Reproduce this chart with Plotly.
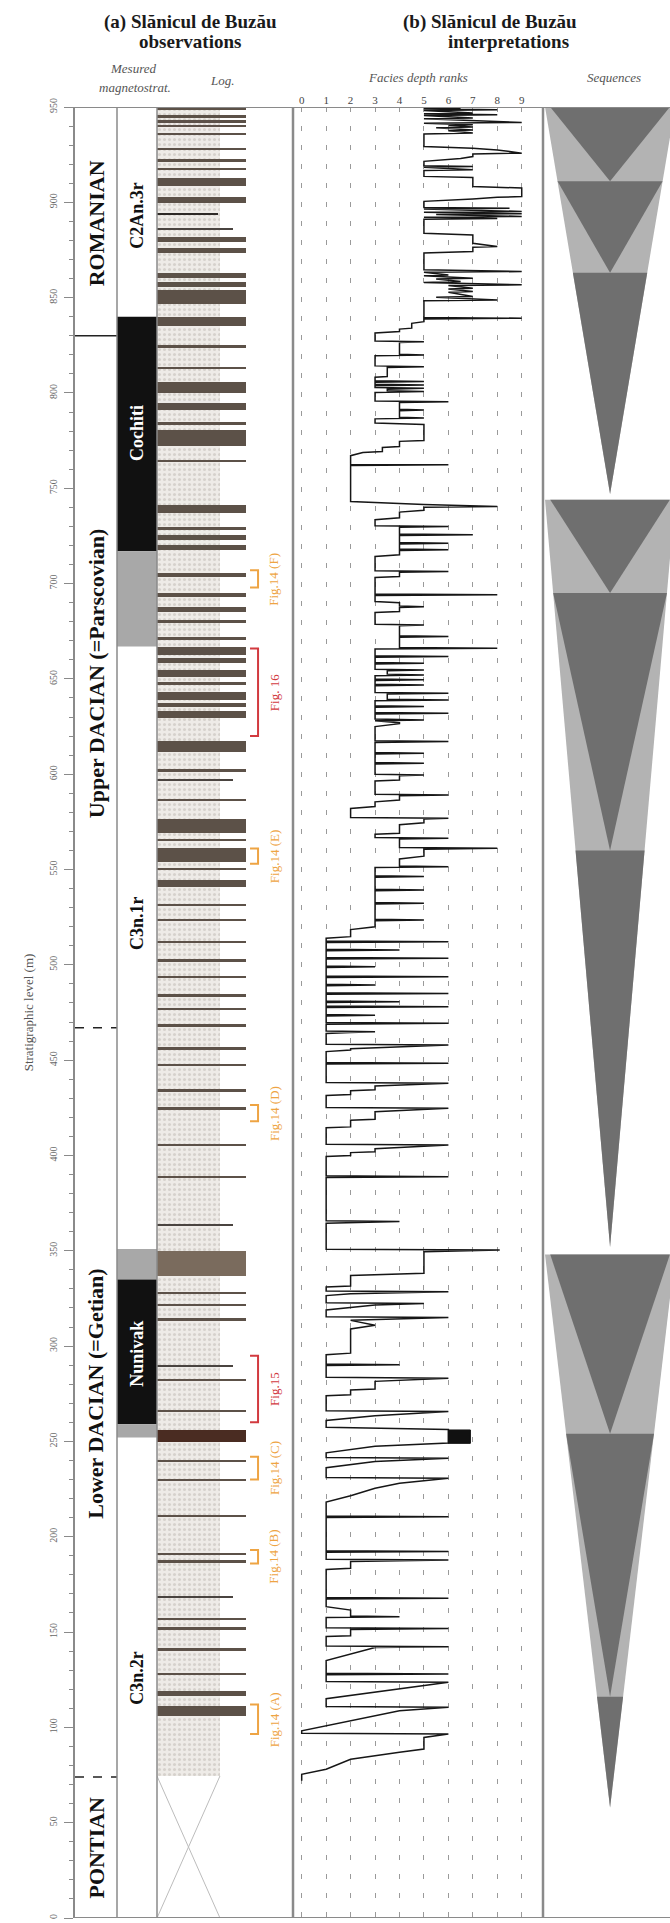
import plotly.graph_objects as go

# ------------------------------------------------------------------ data
stage_names = ["ROMANIAN", "Upper DACIAN (=Parscovian)", "Lower DACIAN (=Getian)", "PONTIAN"]
stage_top = [950, 830, 467, 74]
stage_base = [830, 467, 74, 0]
stage_label_level = [889, 653, 275, 37]
stage_contact = ["solid", "dash", "dash"]

mag_top = [950, 840, 717, 667, 351, 335, 259, 252]
mag_base = [840, 717, 667, 351, 335, 259, 252, 0]
mag_polarity = ["R", "N", "X", "R", "X", "N", "X", "R"]
mag_names = ["C2An.3r", "Cochiti", "C3n.1r", "Nunivak", "C3n.2r"]
mag_name_level = [893, 779, 522, 296, 126]
mag_name_polarity = ["R", "N", "R", "N", "R"]

sand_interval = [74.5, 950]
gap_interval = [0, 74.5]

log_top = [950, 945.9, 943, 940.7, 936.4, 928.4, 922.6, 918, 912.7, 903, 894.3, 886.4, 882, 876,
           862.8, 858.4, 854, 840, 825.2, 813.8, 806, 794.6,
           785, 780.7, 765, 741.3, 729.9, 725.6, 720.3, 705.5, 695, 687.9, 681, 672.2, 666.9, 660.8,
           654.7, 648.6, 643.3, 637.2, 632.9,
           617.5, 602.5, 597.3, 587, 576.5, 566, 561.5, 551, 544.5, 532, 524, 512.5, 503, 494.3,
           484.6, 477.6, 468.9,
           456.8, 448, 434.8, 425.3, 406, 389.4, 364, 350, 328.5, 322.3, 314.5,
           289.9, 283, 266.5, 256, 240.5, 230.5, 210.9, 191.7, 187.7, 169, 157.5, 152.5, 141.5,
           128.3, 119, 111, 96.5]
log_base = [948.5, 944.2, 941.6, 939.6, 935.3, 927.2, 920.9, 916.8, 908.7, 899.9, 893.6, 885.5, 879.4, 873.3,
            860.2, 855.8, 846.7, 835, 823.6, 812.5, 800, 791.1,
            783.3, 772, 764, 737, 728.2, 723, 717.7, 703.7, 693.2, 685.3, 679.2, 670.5, 662.6, 658.2,
            651.2, 646.8, 638.9, 635.5, 629.3,
            611.5, 601.5, 596.6, 586, 569, 565, 554, 550, 541, 531, 523, 511.5, 502, 493.3,
            483.6, 476.6, 467.9,
            455.8, 447, 433.8, 424.3, 405, 388.4, 363.2, 337, 327.3, 321.1, 313.2,
            289.3, 282, 265.5, 249.5, 239.5, 229.5, 210.4, 190.7, 186.7, 168, 156.8, 151.5, 140.5,
            127.8, 116.5, 106, 85]
log_kind = ["F"] * 10 + ["S", "P"] + ["F"] * 10 + \
           ["F"] * 19 + \
           ["F", "F", "P"] + ["F"] * 14 + \
           ["F"] * 6 + ["P", "B"] + ["F"] * 3 + \
           ["P", "F", "F", "L"] + ["F"] * 5 + ["P"] + ["F"] * 6

fig_ref_names = ["Fig.14 (F)", "Fig. 16", "Fig.14 (E)", "Fig.14 (D)", "Fig.15", "Fig.14 (C)", "Fig.14 (B)", "Fig.14 (A)"]
fig_ref_top = [707, 666, 561, 426.5, 295, 242, 193, 112]
fig_ref_base = [698, 620, 553, 418, 260, 230, 186, 96.5]
fig_ref_kind = ["o", "r", "o", "o", "r", "o", "o", "o"]

facies_ticks = [0, 1, 2, 3, 4, 5, 6, 7, 8, 9]
facies_points = [
    (950.0, 5), (949.4, 6.5), (949.1, 5), (948.6, 8), (948.2, 5), (946.8, 7), (946.4, 5), (945.9, 8),
    (945.5, 5), (944.2, 7), (943.8, 5), (941.9, 9), (941.5, 5), (940.7, 7), (940.3, 6), (939.5, 7),
    (939.1, 5.5), (938.0, 7), (937.6, 6), (936.3, 7), (935.9, 5), (929.3, 5), (928.4, 7), (927.5, 8),
    (925.8, 9), (925.4, 7), (924.0, 7), (923.0, 6.5), (921.5, 5), (919.2, 5), (918.8, 7), (918.4, 5),
    (917.1, 7), (916.7, 5), (913.6, 5), (913.0, 7), (908.3, 7), (907.9, 8), (907.5, 9), (903.0, 9),
    (902.6, 8), (901.8, 7), (900.5, 5), (897.3, 5), (896.9, 8.5), (896.5, 5), (895.2, 9), (894.8, 5),
    (894.0, 9), (893.6, 5.5), (892.6, 9), (892.2, 5), (891.5, 8), (891.1, 5), (883.8, 5), (882.9, 7),
    (878.5, 7), (876.8, 8), (876.4, 7), (874.2, 7), (873.4, 5), (864.6, 5), (863.7, 9), (863.3, 5),
    (861.9, 6), (861.5, 5), (860.2, 7), (859.8, 5.5), (858.4, 6.5), (858.0, 5), (856.7, 9), (856.3, 6),
    (854.9, 7), (854.5, 6), (853.2, 7), (852.8, 6), (850.6, 7), (850.2, 5.5), (848.8, 8), (848.4, 5),
    (839.6, 5), (839.2, 9), (838.8, 5), (837.4, 5), (836.5, 4.5), (834.0, 4.5), (833.5, 4), (832.2, 4),
    (831.5, 3), (827.3, 3), (826.9, 5), (826.5, 4), (820.3, 4), (819.9, 5), (819.5, 3), (814.2, 3),
    (813.8, 5), (813.4, 3.5), (808.6, 3.5), (808.2, 3), (806.4, 3), (806.0, 5), (805.6, 3), (804.6, 3),
    (804.2, 5), (803.8, 3), (802.8, 3), (802.4, 5), (802.0, 3.5), (801.1, 3.5), (800.7, 5), (800.3, 3),
    (795.8, 3), (795.4, 6), (795.0, 4), (791.5, 4), (791.1, 5), (790.7, 4), (787.2, 4), (786.8, 5),
    (786.4, 3), (784.2, 3), (783.5, 5), (775.1, 5), (774.6, 4), (771.9, 4), (771.4, 3.3), (769.3, 3.3),
    (768.8, 2.5), (767.1, 2), (762.5, 2), (762.3, 6), (761.9, 2), (743.1, 2), (741.5, 5), (740.4, 8),
    (740.0, 5), (738.5, 5), (737.5, 4), (734.5, 4), (733.5, 3), (730.3, 3), (729.9, 6), (729.5, 4),
    (726.0, 4), (725.6, 7), (725.2, 4), (721.6, 4), (721.2, 6), (720.8, 4), (718.1, 4), (717.7, 6),
    (717.3, 4), (715.1, 4), (714.2, 3), (706.7, 3), (706.3, 6), (705.9, 4), (703.7, 4), (703.2, 3),
    (694.5, 3), (694.1, 8), (693.7, 3), (690.6, 3), (690.0, 4), (688.3, 4), (687.9, 5), (687.5, 4),
    (685.3, 4), (684.8, 3), (678.7, 3), (678.3, 5), (677.9, 4), (672.6, 4), (672.2, 6), (671.8, 4),
    (666.5, 4), (666.1, 8), (665.7, 3), (662.1, 3), (661.7, 6), (661.3, 3), (658.6, 3), (658.2, 5),
    (657.8, 3), (655.1, 3), (654.7, 5), (654.3, 3.5), (652.5, 3.5), (652.1, 5), (651.7, 3), (649.9, 3),
    (649.5, 5), (649.1, 3), (647.2, 3), (646.8, 5), (646.4, 3), (642.9, 3), (642.5, 6), (642.1, 3.5),
    (639.3, 3.5), (638.9, 6), (638.5, 3), (635.9, 3), (635.5, 5), (635.1, 3), (632.4, 3), (632.0, 6),
    (631.6, 3), (628.9, 3), (628.5, 5), (628.1, 3), (627.0, 4), (626.5, 4), (625.0, 3), (617.5, 3),
    (617.1, 6), (616.7, 3), (611.4, 3), (611.0, 5), (610.6, 3), (606.2, 3), (605.8, 5), (605.4, 3),
    (600.0, 3), (599.6, 5), (599.2, 4), (597.0, 4), (596.5, 3), (589.5, 3), (589.1, 6), (588.7, 4),
    (586.5, 4), (585.5, 3), (583.0, 3), (582.0, 2), (577.3, 2), (576.9, 6), (576.5, 5), (574.5, 5),
    (573.5, 4), (569.0, 4), (568.5, 3), (566.8, 3), (566.4, 6), (566.0, 4), (561.5, 4), (561.1, 8),
    (560.7, 5), (557.0, 5), (555.5, 4), (551.9, 4), (551.5, 6), (551.1, 3), (546.7, 3), (546.3, 5),
    (545.9, 3), (539.7, 3), (539.3, 5), (538.9, 3), (532.7, 3), (532.3, 5), (531.9, 3), (523.9, 3),
    (523.5, 5), (523.1, 3), (520.0, 3), (518.5, 2), (514.8, 2), (514.0, 1), (512.5, 1), (512.1, 6),
    (511.7, 1), (508.2, 1), (507.8, 4), (507.4, 1), (503.8, 1), (503.4, 6), (503.0, 1), (499.4, 1),
    (499.0, 3), (498.6, 1), (494.2, 1), (493.8, 6), (493.4, 1), (489.8, 1), (489.4, 3), (489.0, 1),
    (485.4, 1), (485.0, 6), (484.6, 1), (481.0, 1), (480.6, 4), (480.2, 1), (478.4, 1), (478.0, 6),
    (477.6, 1), (474.0, 1), (473.6, 3), (473.2, 1), (469.7, 1), (469.3, 6), (468.9, 1), (465.3, 1),
    (464.9, 3), (464.5, 2), (464.0, 1), (458.4, 1), (458.0, 6), (456.0, 2), (455.3, 2), (454.5, 1),
    (448.8, 1), (448.4, 6), (448.0, 1), (438.3, 1), (437.9, 6), (436.5, 3), (434.5, 3), (434.0, 2),
    (432.0, 2), (431.5, 1), (425.2, 1), (424.8, 6), (423.0, 3), (419.0, 3), (418.5, 2), (415.0, 2),
    (414.5, 1), (405.9, 1), (405.5, 6), (403.5, 3), (402.0, 3), (401.5, 2), (400.0, 2), (399.5, 1),
    (389.3, 1), (388.9, 6), (388.5, 1), (365.7, 1), (365.3, 4), (364.5, 1), (350.8, 1), (350.4, 8.1),
    (349.5, 5), (338.2, 5), (337.0, 2), (331.5, 2), (331.0, 1), (328.9, 1), (328.5, 6), (327.5, 2),
    (326.5, 1), (322.8, 1), (322.4, 5), (321.5, 3), (319.0, 1), (315.4, 1), (315.0, 6), (313.5, 2),
    (311.0, 3), (309.0, 2), (296.3, 2), (295.5, 1), (290.6, 1), (290.2, 4), (289.8, 1), (283.6, 1),
    (283.2, 6), (281.5, 3), (277.5, 3), (277.0, 2), (274.5, 2), (274.0, 1), (266.1, 1), (265.7, 6),
    (263.5, 3), (261.0, 1), (257.4, 1), (256.3, 6), (249.2, 6), (247.5, 3), (244.0, 1), (241.6, 1),
    (241.2, 6), (239.5, 3), (236.2, 1), (231.1, 1), (230.7, 6), (228.1, 4), (225.4, 3), (221.5, 2),
    (218.2, 1), (210.9, 1), (210.5, 6), (210.1, 1), (192.6, 1), (192.2, 6), (191.8, 1), (188.2, 1),
    (187.8, 6), (187.0, 2), (183.5, 2), (182.8, 1), (168.1, 1), (167.7, 6), (167.3, 1), (163.3, 1),
    (161.5, 2), (158.4, 2), (158.0, 4), (157.6, 1), (152.3, 1), (151.9, 6), (151.3, 2), (148.0, 2),
    (147.7, 1), (142.7, 1), (142.3, 6), (141.9, 3), (135.0, 1), (128.4, 1), (128.0, 6), (127.6, 1),
    (124.1, 1), (123.7, 6), (120.2, 4), (115.0, 1), (110.9, 1), (110.5, 6), (108.7, 4), (98.2, 0),
    (96.9, 0), (96.5, 6), (94.7, 5), (88.6, 5), (87.0, 4), (85.1, 3), (83.3, 2), (78.0, 1),
    (75.4, 0), (72.0, 0),
]
facies_box_level = [249.0, 256.0]
facies_box_rank = [6.0, 6.9]

seq_top = [950, 744, 348]
seq_base = [747, 352, 58]
seq_breaks = [[911, 863], [695, 560], [254, 116]]

y_ticks = list(range(0, 951, 50))

# ------------------------------------------------------------------ style
SERIF = "Liberation Serif"
W, H = 670, 1923
L, R, T, B = 75, 0, 107, 5
PW, PH = W - L - R, H - T - B


def px_x(px):
    return (px - L) / PW


def px_y(py):
    return (H - B - py) / PH


fig = go.Figure()

# column domains (pixels)
dom_stage = [px_x(75), px_x(117)]
dom_mag = [px_x(117), px_x(157)]
dom_log = [px_x(157), px_x(293)]
dom_fac = [px_x(293), px_x(543)]
dom_seq = [px_x(543), 1.0]

# log column positions (fraction of log axis)
LOG_EXT = {"F": 0.654, "P": 0.56, "S": 0.45, "B": 0.654, "L": 0.654}
LOG_COL = {"F": "#5c5148", "P": "#4a4440", "S": "#2e2a27", "B": "#7a6b5d", "L": "#4a2c22"}
SAND_EXT = 0.463

# ---- log: sand background
fig.add_trace(go.Bar(
    orientation="h", y=[(sand_interval[0] + sand_interval[1]) / 2], x=[SAND_EXT],
    width=[sand_interval[1] - sand_interval[0]], base=[0], xaxis="x3", yaxis="y",
    marker=dict(color="#eceae6", line=dict(width=0),
                pattern=dict(shape=".", fgcolor="#bdb8b1", bgcolor="#eeebe7", size=5, solidity=0.3)),
    hoverinfo="skip"))

# ---- log: gap (cross)
fig.add_trace(go.Scatter(x=[0, SAND_EXT], y=[gap_interval[1], gap_interval[0]], xaxis="x3", yaxis="y",
                         mode="lines", line=dict(color="#bcbcbc", width=1), hoverinfo="skip"))
fig.add_trace(go.Scatter(x=[SAND_EXT, 0], y=[gap_interval[1], gap_interval[0]], xaxis="x3", yaxis="y",
                         mode="lines", line=dict(color="#bcbcbc", width=1), hoverinfo="skip"))

# ---- log: beds
for kind in ["F", "P", "S", "B", "L"]:
    idx = [i for i, k in enumerate(log_kind) if k == kind]
    if not idx:
        continue
    fig.add_trace(go.Bar(
        orientation="h",
        y=[(log_top[i] + log_base[i]) / 2 for i in idx],
        x=[LOG_EXT[kind]] * len(idx),
        width=[max(log_top[i] - log_base[i], 0.5) for i in idx],
        base=[0] * len(idx), xaxis="x3", yaxis="y",
        marker=dict(color=LOG_COL[kind], line=dict(width=0)), hoverinfo="skip"))

# ---- figure references
REF_COL = {"o": "#eea443", "r": "#d23a3f"}
for name, t, b, k in zip(fig_ref_names, fig_ref_top, fig_ref_base, fig_ref_kind):
    fig.add_trace(go.Scatter(x=[0.684, 0.743, 0.743, 0.684], y=[t, t, b, b], xaxis="x3", yaxis="y",
                             mode="lines", line=dict(color=REF_COL[k], width=2), hoverinfo="skip"))
    fig.add_annotation(x=0.86, y=(t + b) / 2, xref="x3", yref="y", text=name, textangle=-90,
                       showarrow=False, font=dict(family=SERIF, size=13, color=REF_COL[k]))

# ---- facies curve
fig.add_trace(go.Scatter(x=[p[1] for p in facies_points], y=[p[0] for p in facies_points],
                         xaxis="x4", yaxis="y", mode="lines",
                         line=dict(color="#161616", width=1.5), hoverinfo="skip"))
fig.add_trace(go.Scatter(
    x=[facies_box_rank[0], facies_box_rank[1], facies_box_rank[1], facies_box_rank[0], facies_box_rank[0]],
    y=[facies_box_level[1], facies_box_level[1], facies_box_level[0], facies_box_level[0], facies_box_level[1]],
    xaxis="x4", yaxis="y", mode="lines", fill="toself", fillcolor="#111111",
    line=dict(color="#111111", width=1), hoverinfo="skip"))

# ---- sequences
C, HW = 0.528, 0.512
for top, base, brk in zip(seq_top, seq_base, seq_breaks):
    def hw(lv, top=top, base=base):
        return HW * (lv - base) / (top - base)
    fig.add_trace(go.Scatter(x=[C - HW, C + HW, C, C - HW], y=[top, top, base, top],
                             xaxis="x5", yaxis="y", mode="lines", fill="toself",
                             fillcolor="#b3b3b3", line=dict(width=0), hoverinfo="skip"))
    tops = [top] + brk
    apexes = brk + [base]
    for j, (tt, aa) in enumerate(zip(tops, apexes)):
        h = hw(tt) * (0.92 if j == 0 else 1.0)
        fig.add_trace(go.Scatter(x=[C - h, C + h, C, C - h], y=[tt, tt, aa, tt],
                                 xaxis="x5", yaxis="y", mode="lines", fill="toself",
                                 fillcolor="#6f6f6f", line=dict(width=0), hoverinfo="skip"))

# ---- magnetostratigraphy
POL_COL = {"R": "rgba(0,0,0,0)", "N": "#111111", "X": "#a8a8a8"}
shapes = []
for t, b, p in zip(mag_top, mag_base, mag_polarity):
    if p == "R":
        continue
    shapes.append(dict(type="rect", xref="x2", yref="y", x0=0, x1=1, y0=b, y1=t,
                       fillcolor=POL_COL[p], line=dict(width=0), layer="below"))
for name, lv, p in zip(mag_names, mag_name_level, mag_name_polarity):
    fig.add_annotation(x=0.5, y=lv, xref="x2", yref="y", text="<b>%s</b>" % name, textangle=-90,
                       showarrow=False,
                       font=dict(family=SERIF, size=18, color="#ffffff" if p == "N" else "#111111"))

# ---- stages
for name, t, b, lv in zip(stage_names, stage_top, stage_base, stage_label_level):
    fig.add_annotation(x=0.5, y=lv, xref="x", yref="y", text="<b>%s</b>" % name, textangle=-90,
                       showarrow=False, font=dict(family=SERIF, size=22, color="#111111"))
for lv, st in zip(stage_base[:-1], stage_contact):
    shapes.append(dict(type="line", xref="x", yref="y", x0=0, x1=1, y0=lv, y1=lv,
                       line=dict(color="#222222", width=1.5, dash=st)))

# ---- frame lines
GREY = "#8a8a8a"
shapes += [
    dict(type="line", xref="paper", yref="y", x0=0, x1=1, y0=950, y1=950, line=dict(color=GREY, width=2)),
    dict(type="line", xref="paper", yref="y", x0=0, x1=1, y0=0, y1=0, line=dict(color=GREY, width=2)),
    dict(type="line", xref="x domain", yref="y", x0=1, x1=1, y0=0, y1=950, line=dict(color=GREY, width=1.5)),
    dict(type="line", xref="x2 domain", yref="y", x0=1, x1=1, y0=0, y1=950, line=dict(color=GREY, width=1.5)),
    dict(type="line", xref="x4 domain", yref="y", x0=0, x1=0, y0=0, y1=950, line=dict(color=GREY, width=2.5)),
    dict(type="line", xref="x4 domain", yref="y", x0=1, x1=1, y0=0, y1=950, line=dict(color=GREY, width=2.5)),
]

# ---- headers
hdr = [
    ("<b>(a) Slănicul de Buzău</b>", 190, 22, 19, "#1a1a1a"),
    ("<b>observations</b>", 190, 42, 19, "#1a1a1a"),
    ("<b>(b) Slănicul de Buzău</b>", 490, 22, 19, "#1a1a1a"),
    ("<b>interpretations</b>", 508, 42, 19, "#1a1a1a"),
    ("<i>Mesured</i>", 133, 68, 13, "#555555"),
    ("<i>magnetostrat.</i>", 135, 87, 13, "#555555"),
    ("<i>Log.</i>", 222, 80, 13, "#555555"),
    ("<i>Facies depth ranks</i>", 418, 78, 13, "#555555"),
    ("<i>Sequences</i>", 614, 78, 13, "#555555"),
]
for txt, x, y, sz, col in hdr:
    fig.add_annotation(x=px_x(x), y=px_y(y), xref="paper", yref="paper", text=txt, showarrow=False,
                       xanchor="center", yanchor="middle", font=dict(family=SERIF, size=sz, color=col))

hidden = dict(visible=False, range=[0, 1], fixedrange=True)
fig.update_layout(
    width=W, height=H, margin=dict(l=L, r=R, t=T, b=B),
    paper_bgcolor="white", plot_bgcolor="white", showlegend=False, barmode="overlay", bargap=0,
    shapes=shapes,
    xaxis=dict(domain=dom_stage, anchor="y", **hidden),
    xaxis2=dict(domain=dom_mag, anchor="y", **hidden),
    xaxis3=dict(domain=dom_log, anchor="y", **hidden),
    xaxis5=dict(domain=dom_seq, anchor="y", **hidden),
    xaxis4=dict(domain=dom_fac, anchor="y", range=[-0.356, 9.87], side="top",
                tickvals=facies_ticks, ticktext=[str(v) for v in facies_ticks], ticks="",
                tickfont=dict(family=SERIF, size=11, color="#444444"),
                showgrid=True, gridcolor="#9a9a9a", gridwidth=1, griddash="5px,14px",
                zeroline=False, showline=False),
    yaxis=dict(range=[0, 950], domain=[0, 1], anchor="x", showline=True, linecolor=GREY, linewidth=1.5,
               tickvals=y_ticks, ticktext=[str(v) for v in y_ticks], ticks="outside", ticklen=9,
               tickcolor=GREY, tickangle=-90, ticklabelstandoff=3,
               tickfont=dict(family=SERIF, size=10, color="#666666"),
               minor=dict(dtick=10, tick0=0, ticks="outside", ticklen=4, tickcolor=GREY),
               showgrid=False, zeroline=False,
               title=dict(text="Stratigraphic level (m)", standoff=12,
                          font=dict(family=SERIF, size=13, color="#555555"))),
)

fig.write_html("out.html")
